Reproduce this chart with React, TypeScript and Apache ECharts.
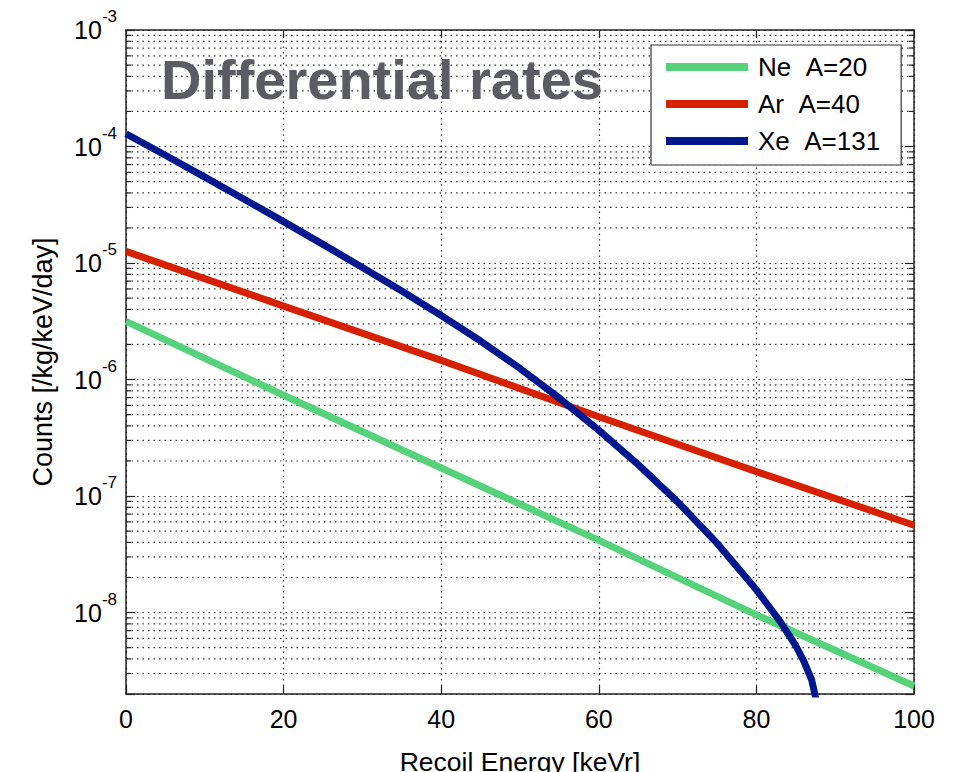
import React, { useEffect, useRef } from "react";
import * as echarts from "echarts";

// Recoil energy [keVr] sample points and differential rates [/kg/keV/day]
const energyNe = [0, 20, 40, 60, 80, 100];
const ratesNe = [3.16e-6, 7.33e-7, 1.74e-7, 4.17e-8, 9.55e-9, 2.34e-9];

const energyAr = [0, 20, 40, 60, 80, 100];
const ratesAr = [1.26e-5, 4.27e-6, 1.46e-6, 4.79e-7, 1.62e-7, 5.62e-8];

const energyXe = [0, 5, 10, 15, 20, 25, 30, 35, 40, 45, 50, 55, 60, 65, 70, 75, 80, 83, 85, 86, 87, 88, 89];
const ratesXe = [
  1.288e-4, 8.41e-5, 5.46e-5, 3.53e-5, 2.265e-5, 1.445e-5, 9.17e-6, 5.75e-6, 3.55e-6, 2.14e-6,
  1.245e-6, 6.92e-7, 3.67e-7, 1.86e-7, 8.91e-8, 3.94e-8, 1.567e-8, 8.41e-9, 5.19e-9, 3.85e-9,
  2.66e-9, 1.33e-9, 4.22e-10,
];

const seriesNames = ["Ne\u00a0\u00a0A=20", "Ar\u00a0\u00a0A=40", "Xe\u00a0\u00a0A=131"];
const seriesColors = ["#56d27a", "#d62000", "#00188f"];

const xTicks = { min: 0, max: 100, interval: 20 };
const yRange = { min: 2e-9, max: 1e-3 };

// decades and mantissas for the minor log grid
const minorDecades = [-9, -8, -7, -6, -5, -4];
const minorMantissas = [2, 3, 4, 5, 6, 7, 8, 9];

const FONT = '"Liberation Sans", Arial, Helvetica, sans-serif';
const DOT = [1.5, 4];

function pairs(xs: number[], ys: number[]) {
  return xs.map((x, i) => [x, ys[i]]);
}

export default function App() {
  const ref = useRef<HTMLDivElement>(null);

  useEffect(() => {
    if (!ref.current) return;
    const chart = echarts.init(ref.current, null, { renderer: "svg" });

    const minorValues: number[][] = [];
    minorDecades.forEach((d) =>
      minorMantissas.forEach((m) => {
        const v = m * Math.pow(10, d);
        if (v > yRange.min * 1.01 && v < yRange.max) minorValues.push([xTicks.min, v]);
      })
    );

    const decadeLabel = (v: number) => {
      const l = Math.log10(v);
      const e = Math.round(l);
      if (Math.abs(l - e) > 1e-6) return "";
      return `{b|10}{s|${e}}`;
    };

    const lineSeries = [
      pairs(energyNe, ratesNe),
      pairs(energyAr, ratesAr),
      pairs(energyXe, ratesXe),
    ].map((data, i) => ({
      name: seriesNames[i],
      type: "line",
      data,
      showSymbol: false,
      symbol: "none",
      clip: true,
      z: 5,
      lineStyle: { color: seriesColors[i], width: 7, join: "round" },
      itemStyle: { color: seriesColors[i] },
    }));

    chart.setOption({
      animation: false,
      backgroundColor: "#ffffff",
      grid: { left: 126, right: 43, top: 30, bottom: 78, outerBoundsMode: "none", containLabel: false },
      xAxis: [
        {
          type: "value",
          min: xTicks.min,
          max: xTicks.max,
          interval: xTicks.interval,
          name: "Recoil Energy [keVr]",
          nameLocation: "middle",
          nameGap: 54,
          nameTextStyle: { fontFamily: FONT, fontSize: 26.5, color: "#000" },
          axisLine: { show: true, onZero: false, lineStyle: { color: "#222", width: 1.5 } },
          axisTick: { show: true, inside: true, length: 8, lineStyle: { color: "#222", width: 1.2 } },
          axisLabel: { fontFamily: FONT, fontSize: 25, color: "#000", margin: 12 },
          splitLine: { show: true, lineStyle: { color: "#333", width: 1.2, type: DOT } },
        },
        {
          type: "value",
          position: "top",
          min: xTicks.min,
          max: xTicks.max,
          interval: xTicks.interval,
          axisLine: { show: true, onZero: false, lineStyle: { color: "#222", width: 1.5 } },
          axisTick: { show: true, inside: true, length: 8, lineStyle: { color: "#222", width: 1.2 } },
          axisLabel: { show: false },
          splitLine: { show: false },
        },
      ],
      yAxis: [
        {
          type: "log",
          logBase: 10,
          min: yRange.min,
          max: yRange.max,
          name: "Counts [/kg/keV/day]",
          nameLocation: "middle",
          nameGap: 70,
          nameTextStyle: { fontFamily: FONT, fontSize: 27, color: "#000" },
          axisLine: { show: true, onZero: false, lineStyle: { color: "#222", width: 1.5 } },
          axisTick: { show: true, inside: true, length: 9, lineStyle: { color: "#222", width: 1.2 } },
          axisLabel: {
            margin: 9,
            formatter: decadeLabel,
            rich: {
              b: { fontFamily: FONT, fontSize: 25, color: "#000", lineHeight: 44, verticalAlign: "middle" },
              s: { fontFamily: FONT, fontSize: 17, color: "#000", lineHeight: 17, verticalAlign: "top" },
            },
          },
          splitLine: { show: true, lineStyle: { color: "#333", width: 1.2, type: DOT } },
        },
        {
          type: "log",
          logBase: 10,
          position: "right",
          min: yRange.min,
          max: yRange.max,
          axisLine: { show: true, onZero: false, lineStyle: { color: "#222", width: 1.5 } },
          axisTick: { show: true, inside: true, length: 9, lineStyle: { color: "#222", width: 1.2 } },
          axisLabel: { show: false },
          splitLine: { show: false },
        },
      ],
      legend: {
        data: seriesNames,
        orient: "vertical",
        left: 651,
        top: 45,
        padding: [9, 21, 11, 15],
        backgroundColor: "#ffffff",
        borderColor: "#333",
        borderWidth: 1.2,
        borderRadius: 0,
        icon: "rect",
        itemWidth: 82,
        itemHeight: 8,
        itemGap: 11,
        selectedMode: false,
        textStyle: { fontFamily: FONT, fontSize: 26, lineHeight: 26, color: "#000", padding: [0, 0, 0, 5] },
        z: 20,
      },
      graphic: [
        {
          type: "text",
          left: 161,
          top: 51,
          z: 30,
          style: {
            text: "Differential rates",
            font: `bold 56px ${FONT}`,
            fill: "#5a5c61",
          },
        },
      ],
      series: [
        {
          type: "custom",
          silent: true,
          z: 1,
          clip: true,
          data: minorValues,
          encode: { x: 0, y: 1 },
          renderItem: (_params: any, api: any) => {
            const v = api.value(1);
            const l = api.coord([xTicks.min, v]);
            const r = api.coord([xTicks.max, v]);
            return {
              type: "group",
              children: [
                {
                  type: "line",
                  shape: { x1: l[0], y1: l[1], x2: r[0], y2: r[1] },
                  style: { stroke: "#333", lineWidth: 1.2, lineDash: DOT },
                },
                {
                  type: "line",
                  shape: { x1: l[0], y1: l[1], x2: l[0] + 5, y2: l[1] },
                  style: { stroke: "#222", lineWidth: 1.2 },
                },
                {
                  type: "line",
                  shape: { x1: r[0] - 5, y1: r[1], x2: r[0], y2: r[1] },
                  style: { stroke: "#222", lineWidth: 1.2 },
                },
              ],
            };
          },
        },
        ...lineSeries,
      ],
    });

    return () => chart.dispose();
  }, []);

  return (
    <div
      ref={ref}
      style={{ position: "absolute", left: 0, top: 0, width: 957, height: 772 }}
    />
  );
}
